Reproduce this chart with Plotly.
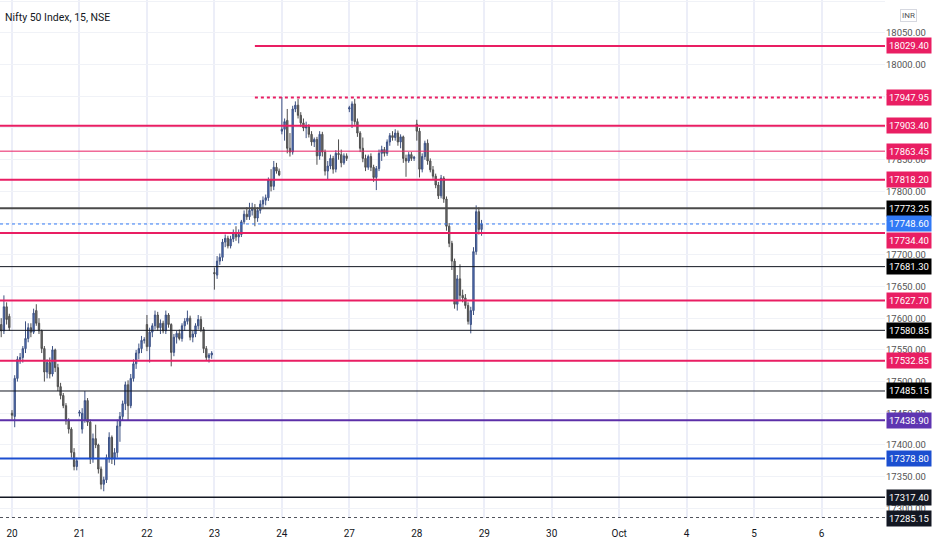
import plotly.graph_objects as go

# Nifty 50, 15 min bars: last 4 bars of Sep 17, then Sep 20..28 (25 bars a session)
opens = [
    17590, 17580, 17618, 17603,
    # 20
    17450, 17445, 17505, 17535, 17538, 17552, 17568, 17585, 17578, 17612, 17592, 17580, 17552,
    17515, 17530, 17512, 17550, 17522, 17492, 17478, 17462, 17438, 17425, 17388, 17366,
    # 21
    17450, 17425, 17440, 17470, 17436, 17378, 17410, 17400, 17362, 17338, 17345, 17380, 17412,
    17378, 17388, 17430, 17445, 17465, 17495, 17462, 17505, 17528, 17545, 17552, 17565,
    # 22
    17590, 17555, 17578, 17588, 17605, 17585, 17592, 17580, 17605, 17590, 17546, 17570, 17576,
    17568, 17588, 17595, 17600, 17570, 17575, 17588, 17598, 17582, 17552, 17538, 17542,
    # 23
    17672, 17668, 17690, 17696, 17720, 17726, 17714, 17725, 17735, 17728, 17732, 17752, 17764,
    17760, 17770, 17774, 17758, 17770, 17780, 17786, 17790, 17818, 17808, 17838, 17832,
    # 24
    17895, 17898, 17912, 17868, 17862, 17930, 17936, 17920, 17908, 17900, 17902, 17890, 17878,
    17882, 17856, 17890, 17862, 17832, 17840, 17852, 17835, 17860, 17858, 17845, 17856,
    # 27
    17930, 17912, 17938, 17910, 17892, 17868, 17852, 17838, 17855, 17838, 17822, 17836, 17860,
    17866, 17860, 17878, 17888, 17885, 17892, 17878, 17886, 17852, 17848, 17858, 17852,
    # 28
    17906, 17895, 17835, 17855, 17876, 17848, 17834, 17824, 17810, 17793, 17821, 17788, 17745,
    17718, 17690, 17622, 17662, 17636, 17632, 17620, 17590, 17612, 17705, 17768, 17740,
]
highs = [
    17600, 17636, 17625, 17607,
    17455, 17510, 17540, 17545, 17556, 17595, 17592, 17592, 17615, 17622, 17600, 17582, 17556,
    17535, 17538, 17556, 17552, 17528, 17498, 17482, 17466, 17442, 17428, 17395, 17380,
    17455, 17458, 17485, 17474, 17440, 17418, 17432, 17402, 17366, 17350, 17385, 17420, 17415,
    17395, 17440, 17452, 17470, 17500, 17502, 17512, 17535, 17550, 17560, 17572, 17570,
    17605, 17585, 17592, 17612, 17610, 17598, 17596, 17612, 17608, 17592, 17575, 17580, 17582,
    17592, 17600, 17612, 17604, 17580, 17592, 17605, 17603, 17586, 17556, 17545, 17548,
    17680, 17698, 17702, 17725, 17732, 17730, 17730, 17740, 17745, 17740, 17755, 17770, 17775,
    17782, 17782, 17780, 17775, 17786, 17792, 17795, 17822, 17835, 17848, 17845, 17836,
    17949, 17915, 17930, 17892, 17935, 17942, 17946, 17925, 17915, 17910, 17906, 17895, 17885,
    17886, 17895, 17894, 17866, 17848, 17858, 17856, 17865, 17882, 17866, 17860, 17860,
    17935, 17942, 17946, 17915, 17895, 17885, 17858, 17858, 17860, 17842, 17840, 17866, 17872,
    17870, 17882, 17892, 17895, 17898, 17896, 17890, 17888, 17858, 17862, 17862, 17856,
    17913, 17900, 17860, 17880, 17882, 17852, 17840, 17828, 17815, 17826, 17824, 17792, 17750,
    17722, 17694, 17668, 17685, 17645, 17638, 17625, 17618, 17712, 17778, 17775, 17755,
]
lows = [
    17570, 17575, 17590, 17580,
    17440, 17428, 17500, 17528, 17530, 17545, 17562, 17570, 17575, 17588, 17575, 17545, 17500,
    17505, 17505, 17508, 17515, 17485, 17472, 17458, 17432, 17418, 17380, 17360, 17360,
    17445, 17418, 17435, 17430, 17370, 17372, 17395, 17355, 17330, 17327, 17340, 17372, 17370,
    17368, 17380, 17405, 17438, 17455, 17438, 17458, 17500, 17520, 17535, 17545, 17560,
    17548, 17530, 17570, 17582, 17580, 17575, 17576, 17575, 17585, 17524, 17540, 17560, 17565,
    17563, 17580, 17590, 17565, 17562, 17570, 17582, 17578, 17545, 17533, 17530, 17536,
    17645, 17662, 17684, 17690, 17712, 17710, 17710, 17720, 17722, 17718, 17728, 17748, 17755,
    17755, 17762, 17745, 17752, 17765, 17772, 17778, 17785, 17800, 17802, 17828, 17824,
    17890, 17880, 17860, 17855, 17858, 17925, 17915, 17902, 17895, 17884, 17885, 17872, 17870,
    17842, 17850, 17855, 17825, 17818, 17835, 17828, 17830, 17850, 17838, 17842, 17848,
    17925, 17900, 17905, 17886, 17862, 17846, 17832, 17834, 17832, 17815, 17802, 17832, 17848,
    17855, 17856, 17872, 17880, 17880, 17872, 17868, 17845, 17823, 17845, 17848, 17848,
    17880, 17822, 17830, 17850, 17842, 17830, 17820, 17805, 17788, 17789, 17782, 17738, 17712,
    17676, 17615, 17612, 17628, 17625, 17615, 17590, 17576, 17605, 17700, 17732, 17730,
]
closes = [
    17580, 17618, 17598, 17585,
    17447, 17505, 17535, 17538, 17552, 17568, 17585, 17578, 17608, 17592, 17580, 17552, 17515,
    17530, 17512, 17550, 17522, 17492, 17478, 17462, 17438, 17425, 17388, 17366, 17375,
    17452, 17450, 17470, 17436, 17378, 17410, 17400, 17362, 17338, 17345, 17380, 17412, 17378,
    17388, 17430, 17445, 17465, 17495, 17462, 17505, 17528, 17545, 17552, 17565, 17566,
    17555, 17578, 17588, 17605, 17585, 17592, 17580, 17605, 17590, 17546, 17570, 17576, 17568,
    17588, 17595, 17600, 17570, 17575, 17588, 17598, 17582, 17552, 17538, 17542, 17545,
    17670, 17690, 17696, 17720, 17726, 17714, 17725, 17735, 17728, 17732, 17752, 17764, 17760,
    17770, 17774, 17758, 17770, 17780, 17786, 17790, 17818, 17808, 17838, 17832, 17826,
    17898, 17910, 17868, 17862, 17930, 17936, 17920, 17908, 17900, 17902, 17890, 17878, 17882,
    17856, 17890, 17862, 17832, 17840, 17852, 17835, 17860, 17858, 17845, 17856, 17852,
    17932, 17938, 17910, 17892, 17868, 17852, 17838, 17855, 17838, 17822, 17836, 17860, 17866,
    17860, 17878, 17888, 17885, 17892, 17878, 17886, 17852, 17848, 17858, 17852, 17854,
    17895, 17835, 17855, 17876, 17848, 17834, 17824, 17810, 17793, 17821, 17788, 17745, 17718,
    17690, 17622, 17662, 17636, 17632, 17620, 17595, 17612, 17705, 17768, 17740, 17748.6,
]
tail_bars = 4
bars_per_day = 25
day_labels = ["20", "21", "22", "23", "24", "27", "28", "29", "30", "Oct", "4", "5", "6"]

# horizontal levels drawn on the chart
level_prices = [18029.40, 17947.95, 17903.40, 17863.45, 17818.20, 17773.25, 17748.60, 17734.40,
                17681.30, 17627.70, 17580.85, 17532.85, 17485.15, 17438.90, 17378.80, 17317.40, 17285.15]
level_colors = ["#e91e63", "#e91e63", "#e91e63", "#e91e63", "#e91e63", "#4a4a4a", "#3179f5", "#e91e63",
                "#131722", "#e91e63", "#131722", "#e91e63", "#131722", "#5b2fa8", "#1c4fd0", "#131722", "#131722"]
label_colors = ["#e91e63", "#e91e63", "#e91e63", "#e91e63", "#e91e63", "#000000", "#3179f5", "#e91e63",
                "#000000", "#e91e63", "#000000", "#e91e63", "#000000", "#5e35b1", "#1c4fd0", "#131722", "#131722"]
level_widths = [2, 2, 2, 1, 2, 2, 1, 2, 1, 2, 1, 2, 1, 2, 2, 1.5, 1]
level_dash = ["solid", "dot", "solid", "solid", "solid", "solid", "dot", "solid",
              "solid", "solid", "solid", "solid", "solid", "solid", "solid", "solid", "dot"]
level_start_bar = [90, 90, None, None, None, None, None, None, None, None, None, None, None, None, None, None, None]
label_shift = [0, 0, 0, 0, 0, 0, 0, -8, 0, 0, 0, 0, 0, 0, 0, 0, -1]

x = list(range(-tail_bars, len(opens) - tail_bars))
x_left = -4.45
x_right = 323.5
font = "Roboto"

fig = go.Figure()
fig.add_trace(go.Candlestick(
    x=x, open=opens, high=highs, low=lows, close=closes,
    increasing=dict(fillcolor="#4f73c4", line=dict(color="#3e5283", width=1)),
    decreasing=dict(fillcolor="#707070", line=dict(color="#4e4e4e", width=1)),
    whiskerwidth=0, showlegend=False, hoverinfo="skip",
))

for p, c, lc, w, d, s, sh in zip(level_prices, level_colors, label_colors, level_widths,
                                 level_dash, level_start_bar, label_shift):
    fig.add_shape(type="line", xref="x", yref="y",
                  x0=s if s is not None else x_left, x1=x_right, y0=p, y1=p,
                  line=dict(color=c, width=w, dash=d), layer="above")
    fig.add_annotation(x=1, xref="paper", xanchor="left", xshift=1, y=p, yref="y", yshift=sh,
                       text=f"{p:.2f}", showarrow=False, bgcolor=lc, borderpad=2,
                       font=dict(family=font, size=9.5, color="white"))

fig.add_annotation(x=0, xref="paper", xanchor="left", xshift=3, y=1, yref="paper", yanchor="top",
                   yshift=-9, text="Nifty 50 Index, 15, NSE", showarrow=False,
                   font=dict(family=font, size=10.5, color="#131722"))
fig.add_annotation(x=1, xref="paper", xanchor="left", xshift=15, y=1, yref="paper", yanchor="top",
                   yshift=-9, text="INR", showarrow=False, bordercolor="#d6d8e0", borderwidth=1,
                   borderpad=1, font=dict(family=font, size=8, color="#555"))

price_ticks = list(range(17300, 18101, 50))
fig.update_layout(
    width=932, height=550,
    margin=dict(l=0, r=47, t=0, b=32),
    paper_bgcolor="white", plot_bgcolor="white",
    xaxis=dict(range=[x_left, x_right], rangeslider=dict(visible=False),
               tickvals=[i * bars_per_day for i in range(len(day_labels))], ticktext=day_labels,
               showgrid=True, gridcolor="#eceef8", gridwidth=2, zeroline=False, showline=False,
               ticks="", ticklabelstandoff=8,
               tickfont=dict(family=font, size=10, color="#131722")),
    yaxis=dict(range=[17284.8, 18101.9], side="right", tickvals=price_ticks,
               ticktext=[f"{v:.2f}" for v in price_ticks], showgrid=True, gridcolor="#f0f2f7",
               zeroline=False, showline=False, ticks="",
               tickfont=dict(family=font, size=9.5, color="#555")),
)

fig.write_html("out.html", config={"displayModeBar": False},
               post_script="document.body.style.margin='0px';")
